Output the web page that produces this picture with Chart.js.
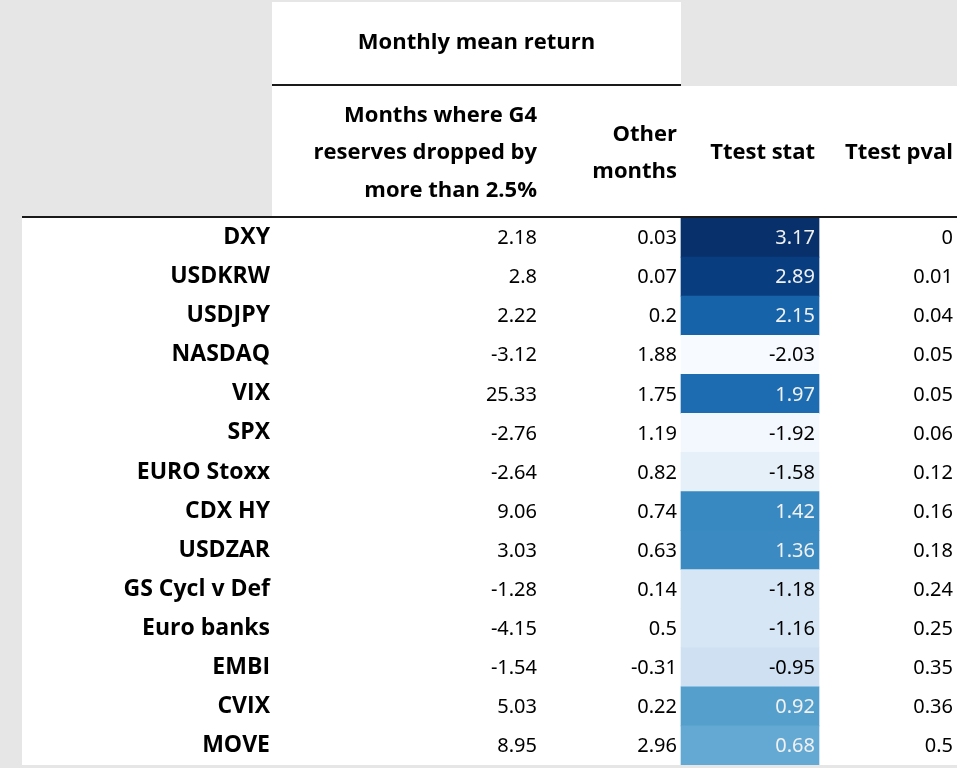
<!DOCTYPE html>
<html>
<head>
<meta charset="utf-8">
<script src="https://cdn.jsdelivr.net/npm/chart.js@4.4.1/dist/chart.umd.min.js"></script>
<style>
  html, body { margin: 0; padding: 0; background: #e6e6e6; }
  #wrap { width: 957px; height: 768px; }
</style>
</head>
<body>
<div id="wrap"><canvas id="table" width="957" height="768"></canvas></div>
<script>
// table data
const rows = ['DXY', 'USDKRW', 'USDJPY', 'NASDAQ', 'VIX', 'SPX', 'EURO Stoxx', 'CDX HY',
  'USDZAR', 'GS Cycl v Def', 'Euro banks', 'EMBI', 'CVIX', 'MOVE'];
const dropMonths = [2.18, 2.8, 2.22, -3.12, 25.33, -2.76, -2.64, 9.06, 3.03, -1.28, -4.15, -1.54, 5.03, 8.95];
const otherMonths = [0.03, 0.07, 0.2, 1.88, 1.75, 1.19, 0.82, 0.74, 0.63, 0.14, 0.5, -0.31, 0.22, 2.96];
const tStat = [3.17, 2.89, 2.15, -2.03, 1.97, -1.92, -1.58, 1.42, 1.36, -1.18, -1.16, -0.95, 0.92, 0.68];
const tPval = [0, 0.01, 0.04, 0.05, 0.05, 0.06, 0.12, 0.16, 0.18, 0.24, 0.25, 0.35, 0.36, 0.5];

const groupHeader = 'Monthly mean return';
const colHeaders = [
  ['Months where G4', 'reserves dropped by', 'more than 2.5%'],
  ['Other', 'months'],
  ['Ttest stat'],
  ['Ttest pval']
];

// layout (column edges in x-scale units, measured from the row label column)
const colEdges = [0, 269, 409, 547, 685];
const LABEL_FONT = 'bold 22px "Open Sans"';
const NUM_FONT = '20px "Noto Sans"';

// matplotlib "Blues" stops
const blues = ['#f7fbff', '#deebf7', '#c6dbef', '#9ecae1', '#6baed6', '#4292c6', '#2171b5', '#08519c', '#08306b'];

function hexToRgb(h){
  return [parseInt(h.slice(1, 3), 16), parseInt(h.slice(3, 5), 16), parseInt(h.slice(5, 7), 16)];
}

function bluesAt(t){
  t = Math.max(0, Math.min(1, t));
  const pos = t * (blues.length - 1);
  const i = Math.min(Math.floor(pos), blues.length - 2);
  const f = pos - i;
  const a = hexToRgb(blues[i]), b = hexToRgb(blues[i + 1]);
  return a.map((c, k) => Math.round(c + (b[k] - c) * f));
}

const tMin = Math.min(...tStat), tMax = Math.max(...tStat);
const cellRgb = tStat.map(v => bluesAt((v - tMin) / (tMax - tMin)));
const cellColors = cellRgb.map(c => `rgb(${c[0]},${c[1]},${c[2]})`);

function luminance(rgb){
  const lin = rgb.map(c => {
    c = c / 255;
    return c <= 0.03928 ? c / 12.92 : Math.pow((c + 0.055) / 1.055, 2.4);
  });
  return 0.2126 * lin[0] + 0.7152 * lin[1] + 0.0722 * lin[2];
}

const tableBackground = {
  id: 'tableBackground',
  beforeDraw(chart){
    const ctx = chart.ctx;
    const x = chart.scales.x;
    const area = chart.chartArea;
    const left = x.getPixelForValue(colEdges[0]);
    const groupRight = x.getPixelForValue(colEdges[2]);
    ctx.save();
    ctx.fillStyle = '#e6e6e6';
    ctx.fillRect(0, 0, chart.width, chart.height);
    ctx.fillStyle = '#ffffff';
    ctx.fillRect(left, 2, groupRight - left, 84);
    ctx.fillRect(left, 86, area.right - left, area.top - 86);
    ctx.fillRect(22, area.top, area.right - 22, area.bottom - area.top);
    ctx.fillStyle = '#1a1a1a';
    ctx.fillRect(left, 84, groupRight - left, 2);
    ctx.fillRect(22, area.top - 2, area.right - 22, 2);
    ctx.restore();
  }
};

const tableText = {
  id: 'tableText',
  afterDraw(chart){
    const ctx = chart.ctx;
    const x = chart.scales.x;
    const y = chart.scales.y;
    ctx.save();
    ctx.textBaseline = 'middle';

    // group header
    ctx.font = LABEL_FONT;
    ctx.fillStyle = '#000000';
    ctx.textAlign = 'center';
    ctx.fillText(groupHeader, (x.getPixelForValue(colEdges[0]) + x.getPixelForValue(colEdges[2])) / 2, 43);

    // column headers
    ctx.textAlign = 'right';
    const headMid = 153;
    const lineH = 37.5;
    colHeaders.forEach((lines, c) => {
      const px = x.getPixelForValue(colEdges[c + 1]) - 4;
      const top = headMid - (lines.length - 1) * lineH / 2;
      lines.forEach((line, j) => ctx.fillText(line, px, top + j * lineH));
    });

    // cell values
    ctx.font = NUM_FONT;
    const columns = [dropMonths, otherMonths, tStat, tPval];
    rows.forEach((r, i) => {
      const py = y.getPixelForValue(i) + 1;
      columns.forEach((col, c) => {
        const px = x.getPixelForValue(colEdges[c + 1]) - 4;
        if (c === 2) {
          ctx.fillStyle = luminance(cellRgb[i]) < 0.408 ? '#f1f1f1' : '#000000';
        } else {
          ctx.fillStyle = '#000000';
        }
        ctx.fillText(String(col[i]), px, py);
      });
    });
    ctx.restore();
  }
};

new Chart(document.getElementById('table'), {
  type: 'bar',
  data: {
    labels: rows,
    datasets: [{
      label: 'Ttest stat',
      data: tStat.map(() => [colEdges[2], colEdges[3]]),
      backgroundColor: cellColors,
      borderWidth: 0,
      barPercentage: 1,
      categoryPercentage: 1,
    }]
  },
  options: {
    indexAxis: 'y',
    responsive: false,
    animation: false,
    layout: {
      padding: {left: 22, top: 218, right: 0, bottom: 3}
    },
    plugins: {
      legend: {display: false},
      tooltip: {enabled: false},
    },
    scales: {
      x: {
        type: 'linear',
        min: colEdges[0],
        max: colEdges[colEdges.length - 1],
        display: false,
      },
      y: {
        type: 'category',
        offset: true,
        grid: {display: false, drawTicks: false},
        border: {display: false},
        ticks: {
          autoSkip: false,
          padding: 2,
          color: '#000000',
          font: {family: 'Open Sans', size: 23, weight: 'bold'},
        },
        afterFit(scale){
          scale.width = 250;
          scale.paddingTop = 0;
          scale.paddingBottom = 0;
        }
      }
    }
  },
  plugins: [tableBackground, tableText]
});
</script>
</body>
</html>
